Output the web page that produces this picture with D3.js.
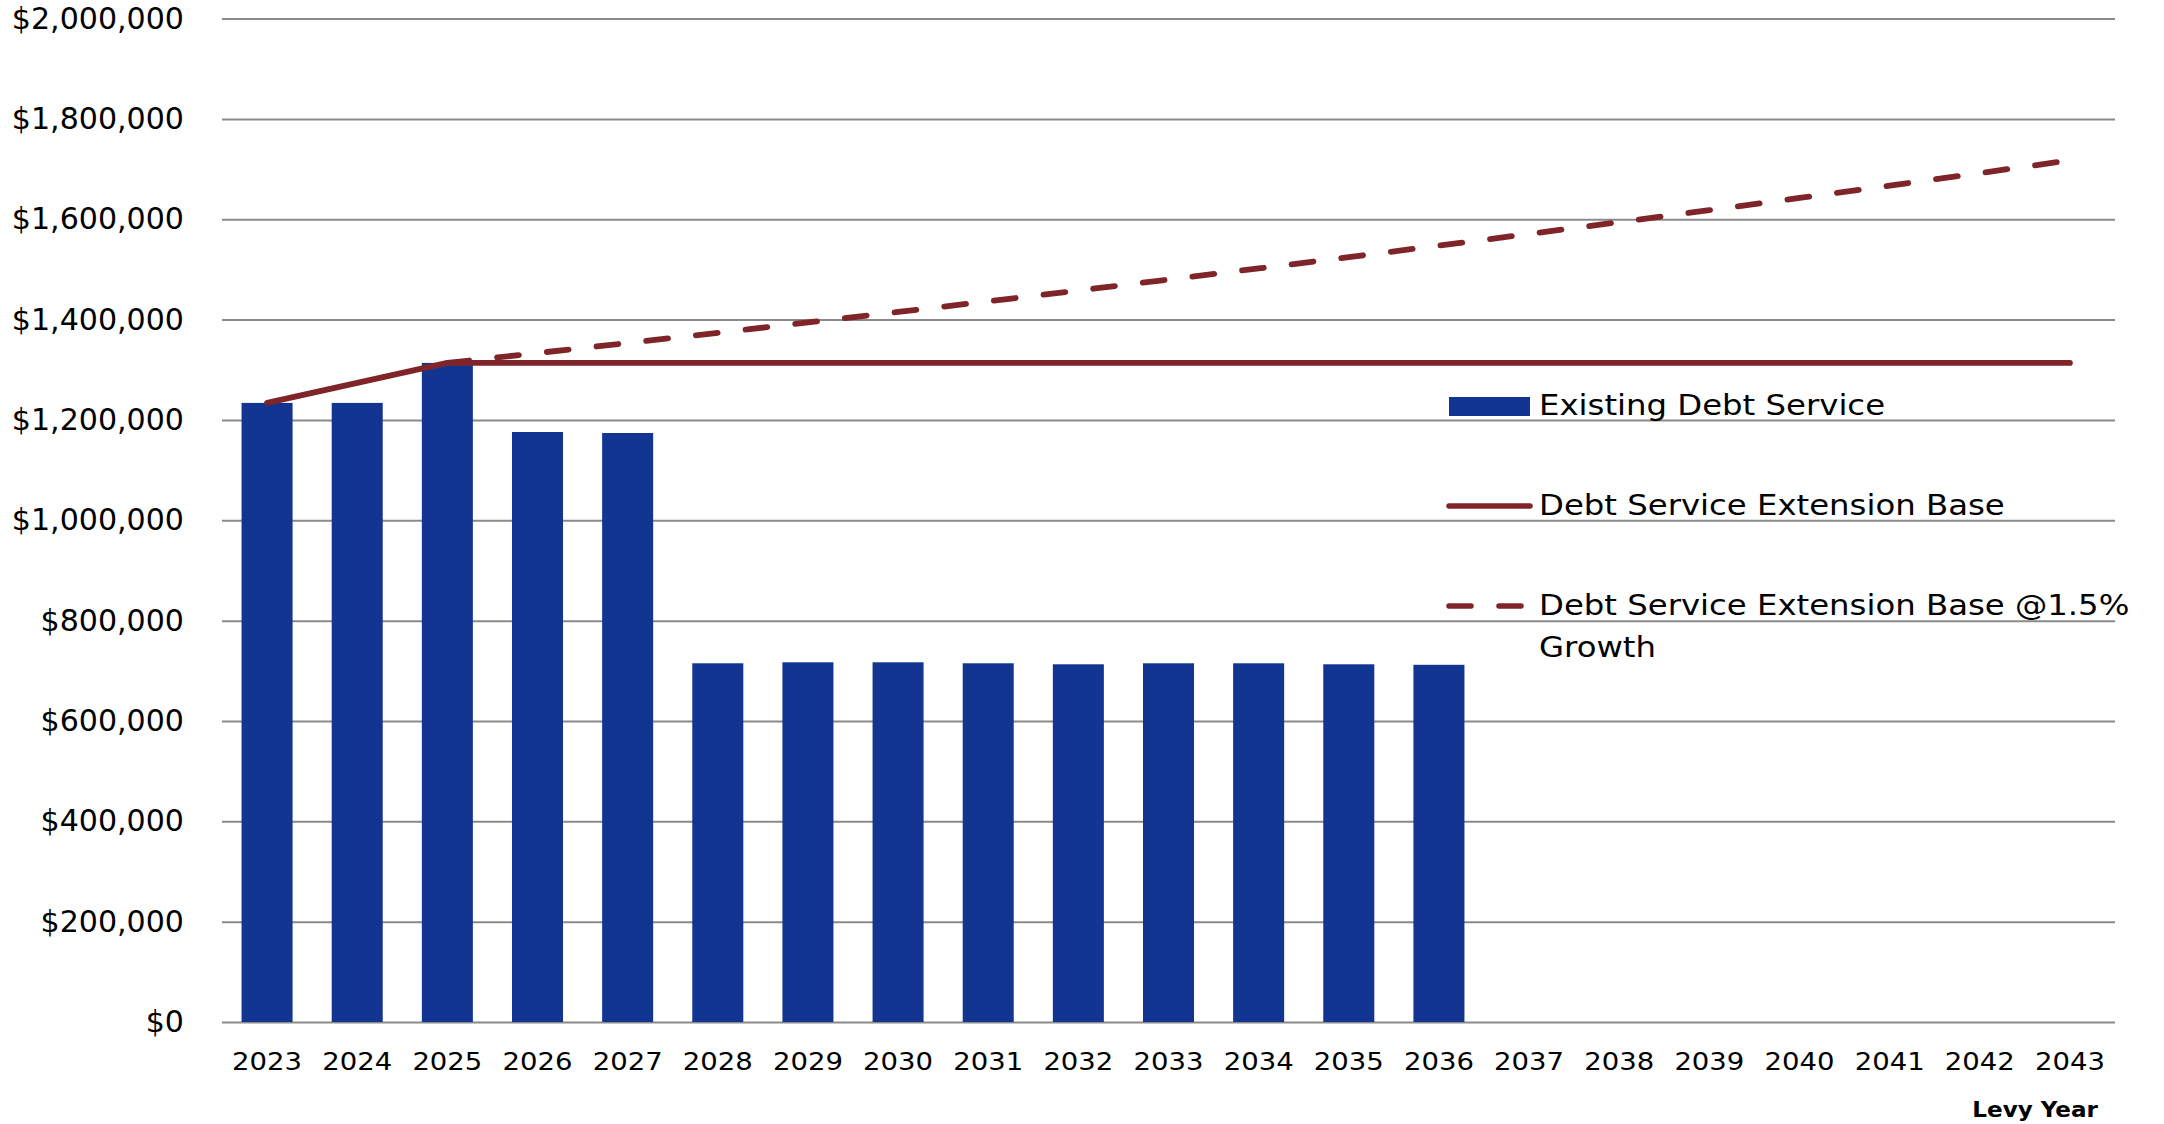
<!DOCTYPE html>
<html>
<head>
<meta charset="utf-8">
<script src="https://cdn.jsdelivr.net/npm/d3@7"></script>
<style>
  html, body { margin: 0; padding: 0; background: #ffffff; }
  svg { display: block; }
  text { font-family: "DejaVu Sans", sans-serif; fill: #000000; }
</style>
</head>
<body>
<svg id="chart" width="2164" height="1124"></svg>
<script>
// Levy years on the category axis
const years = ["2023","2024","2025","2026","2027","2028","2029","2030","2031","2032",
               "2033","2034","2035","2036","2037","2038","2039","2040","2041","2042","2043"];

// Existing debt service (bars), by levy year
const existingDebtYears = ["2023","2024","2025","2026","2027","2028","2029","2030","2031",
                           "2032","2033","2034","2035","2036"];
const existingDebt = [1234000, 1234000, 1313700, 1176000, 1174000, 715000, 717000, 717000,
                      715000, 713000, 715000, 715000, 713000, 712000];

// Debt service extension base (solid line)
const extensionBase = [1234000, 1274000, 1313700, 1313700, 1313700, 1313700, 1313700,
                       1313700, 1313700, 1313700, 1313700, 1313700, 1313700, 1313700,
                       1313700, 1313700, 1313700, 1313700, 1313700, 1313700, 1313700];

// Debt service extension base @1.5% growth (dashed line), 2025 onward
const growthYears = ["2025","2026","2027","2028","2029","2030","2031","2032","2033","2034",
                     "2035","2036","2037","2038","2039","2040","2041","2042","2043"];
const extensionGrowth = [1313700, 1333406, 1353407, 1373708, 1394313, 1415228, 1436456,
                         1458003, 1479873, 1502072, 1524603, 1547472, 1570684, 1594244,
                         1618158, 1642430, 1667066, 1692072, 1717453];

// Value axis ticks
const yTicks = [0, 200000, 400000, 600000, 800000, 1000000, 1200000, 1400000,
                1600000, 1800000, 2000000];

const legendLabels = ["Existing Debt Service", "Debt Service Extension Base",
                      ["Debt Service Extension Base @1.5%", "Growth"]];
const axisTitle = "Levy Year";

const W = 2164, H = 1124;
const margin = { top: 18.6, right: 49, bottom: 102, left: 222 };
const barColor = "#123592";
const lineColor = "#7f2529";
const gridColor = "#8a8a8a";

const svg = d3.select("#chart");

const x = d3.scaleBand()
  .domain(years)
  .range([margin.left, W - margin.right])
  .paddingInner(0.434)
  .paddingOuter(0.217);

const y = d3.scaleLinear()
  .domain([0, 2000000])
  .range([H - margin.bottom, margin.top]);

const fmt = d3.format("$,.0f");

// Horizontal gridlines with value labels
const yAxis = d3.axisLeft(y)
  .tickValues(yTicks)
  .tickFormat(fmt)
  .tickSize(-(W - margin.right - margin.left))
  .tickPadding(38);

const gy = svg.append("g")
  .attr("transform", `translate(${margin.left},0)`)
  .call(yAxis);
gy.select(".domain").remove();
gy.selectAll(".tick line")
  .attr("stroke", gridColor)
  .attr("stroke-width", 2);
gy.selectAll(".tick text")
  .attr("x", 0)
  .attr("transform", "translate(-38,0) scale(1.02,1)")
  .attr("font-size", 29.5)
  .attr("font-family", "DejaVu Sans, sans-serif")
  .attr("fill", "#000");

// Bars
svg.append("g")
  .selectAll("rect")
  .data(existingDebtYears.map((yr, i) => ({ yr, v: existingDebt[i] })))
  .join("rect")
  .attr("x", d => x(d.yr))
  .attr("width", x.bandwidth())
  .attr("y", d => y(d.v))
  .attr("height", d => y(0) - y(d.v))
  .attr("fill", barColor);

// Category labels
const xAxis = d3.axisBottom(x).tickSize(0).tickPadding(30);
const gx = svg.append("g")
  .attr("transform", `translate(0,${H - margin.bottom})`)
  .call(xAxis);
gx.select(".domain").remove();
gx.selectAll(".tick text")
  .attr("transform", "scale(1.1,1)")
  .attr("font-size", 25)
  .attr("font-family", "DejaVu Sans, sans-serif")
  .attr("fill", "#000");

const cx = yr => x(yr) + x.bandwidth() / 2;

// Extension base lines
const line = d3.line().x(d => cx(d.yr)).y(d => y(d.v));

svg.append("path")
  .datum(growthYears.map((yr, i) => ({ yr, v: extensionGrowth[i] })))
  .attr("d", line)
  .attr("fill", "none")
  .attr("stroke", lineColor)
  .attr("stroke-width", 5.8)
  .attr("stroke-linecap", "round")
  .attr("stroke-dasharray", "22 28");

svg.append("path")
  .datum(years.map((yr, i) => ({ yr, v: extensionBase[i] })))
  .attr("d", line)
  .attr("fill", "none")
  .attr("stroke", lineColor)
  .attr("stroke-width", 5.8)
  .attr("stroke-linecap", "round")
  .attr("stroke-linejoin", "round");

// Legend
const legend = svg.append("g").attr("transform", "translate(1449,0)");
const lgFont = 28;
const lgStretch = "scale(1.155,1)";

legend.append("rect")
  .attr("x", 0).attr("y", 397).attr("width", 81).attr("height", 19)
  .attr("fill", barColor);
legend.append("text")
  .attr("transform", `translate(90,415) ${lgStretch}`)
  .attr("font-size", lgFont)
  .text(legendLabels[0]);

legend.append("line")
  .attr("x1", 0).attr("x2", 81).attr("y1", 506).attr("y2", 506)
  .attr("stroke", lineColor).attr("stroke-width", 5.5).attr("stroke-linecap", "round");
legend.append("text")
  .attr("transform", `translate(90,515) ${lgStretch}`)
  .attr("font-size", lgFont)
  .text(legendLabels[1]);

legend.append("line")
  .attr("x1", 0).attr("x2", 81).attr("y1", 606).attr("y2", 606)
  .attr("stroke", lineColor).attr("stroke-width", 5.5).attr("stroke-linecap", "round")
  .attr("stroke-dasharray", "22 28");
const t3 = legend.append("text")
  .attr("transform", `translate(90,615) ${lgStretch}`)
  .attr("font-size", lgFont);
t3.selectAll("tspan")
  .data(legendLabels[2])
  .join("tspan")
  .attr("x", 0)
  .attr("dy", (d, i) => i === 0 ? 0 : 41.7)
  .text(d => d);

// Axis title
svg.append("text")
  .attr("transform", "translate(2098,1117) scale(1.1,1)")
  .attr("text-anchor", "end")
  .attr("font-size", 21)
  .attr("font-weight", "bold")
  .text(axisTitle);
</script>
</body>
</html>
